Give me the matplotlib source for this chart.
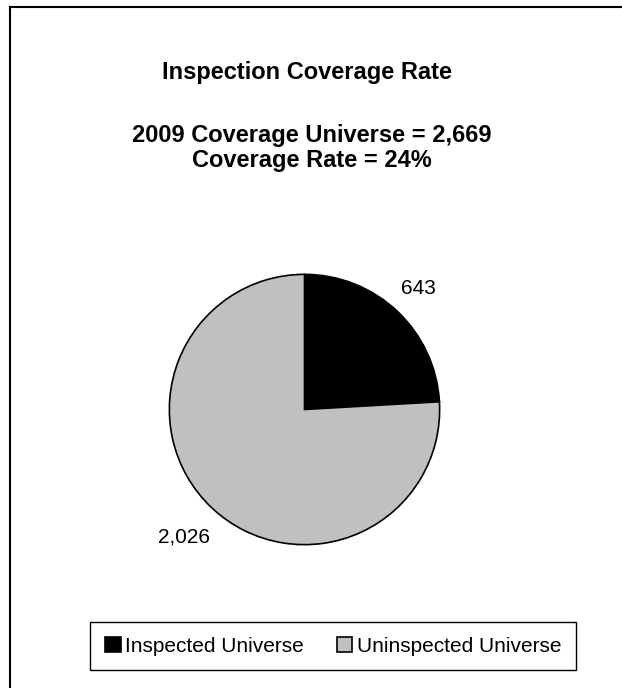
import matplotlib
matplotlib.use('Agg')
import matplotlib.pyplot as plt
from matplotlib.lines import Line2D
import numpy as np

plt.rcParams['font.family'] = ['Liberation Sans', 'DejaVu Sans']

categories = ['Inspected Universe', 'Uninspected Universe']
counts = [643, 2026]
colors = ['#000000', '#C0C0C0']
title = 'Inspection Coverage Rate'
subtitle = '2009 Coverage Universe = 2,669\nCoverage Rate = 24%'

W, H = 622, 688
fig = plt.figure(figsize=(W / 100, H / 100), dpi=100)
fig.patch.set_facecolor('white')

# outer chart border (only top and left show in the crop)
fig.add_artist(Line2D([10 / W, 10 / W], [0, 1 - 7 / H], transform=fig.transFigure,
                      color='black', lw=1.5))
fig.add_artist(Line2D([10 / W, 1], [1 - 7 / H, 1 - 7 / H], transform=fig.transFigure,
                      color='black', lw=1.5))

fig.text(307 / W, 1 - 73 / H, title, ha='center', va='center',
         fontsize=17, fontweight='bold')
fig.text(312 / W, 1 - 148 / H, subtitle, ha='center', va='center',
         fontsize=17, fontweight='bold', linespacing=1.15)

ax = fig.add_axes([168 / W, 1 - 546 / H, 273 / W, 273 / H])
wedges, texts = ax.pie(counts, colors=colors, startangle=90, counterclock=False,
                       labels=[f'{c:,}' for c in counts],
                       wedgeprops=dict(edgecolor='black', linewidth=1.2),
                       textprops=dict(fontsize=15))
# data labels sit just outside each slice, at its middle angle
label_dist = [1.23, 1.30]
for w, t, d in zip(wedges, texts, label_dist):
    mid = np.deg2rad((w.theta1 + w.theta2) / 2)
    t.set_position((d * np.cos(mid), d * np.sin(mid)))
    t.set_ha('center')
    t.set_va('center')
ax.set_xlim(-1.01, 1.01)
ax.set_ylim(-1.01, 1.01)
ax.set_aspect('equal')
ax.axis('off')

leg = fig.legend(wedges, categories, loc='center', ncol=2,
                 bbox_to_anchor=(333 / W, 1 - 646 / H), fontsize=15,
                 frameon=True, fancybox=False, edgecolor='black', framealpha=1,
                 handlelength=0.75, handleheight=0.75, handletextpad=0.2,
                 columnspacing=1.6, borderpad=0.7)
leg.get_frame().set_linewidth(1.0)

fig.savefig('out.png', dpi=100, facecolor='white')
